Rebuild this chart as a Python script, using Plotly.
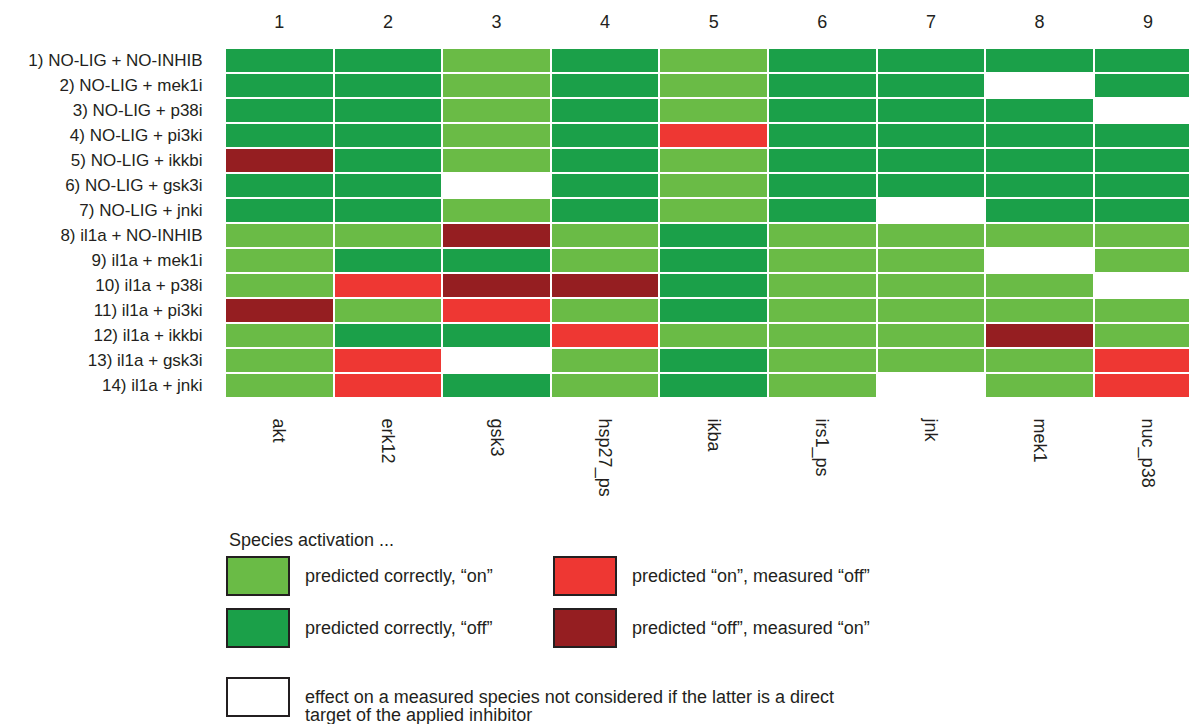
import plotly.graph_objects as go

# Measured species (columns) and their column numbers
species = ["akt", "erk12", "gsk3", "hsp27_ps", "ikba", "irs1_ps", "jnk", "mek1", "nuc_p38"]
column_numbers = ["1", "2", "3", "4", "5", "6", "7", "8", "9"]

# Experimental conditions (rows)
conditions = [
    "1) NO-LIG + NO-INHIB",
    "2) NO-LIG + mek1i",
    "3) NO-LIG + p38i",
    "4) NO-LIG + pi3ki",
    "5) NO-LIG + ikkbi",
    "6) NO-LIG + gsk3i",
    "7) NO-LIG + jnki",
    "8) il1a + NO-INHIB",
    "9) il1a + mek1i",
    "10) il1a + p38i",
    "11) il1a + pi3ki",
    "12) il1a + ikkbi",
    "13) il1a + gsk3i",
    "14) il1a + jnki",
]

# Outcome per cell:
# L = predicted correctly "on", D = predicted correctly "off",
# R = predicted "on" / measured "off", M = predicted "off" / measured "on",
# W = not considered (species is a direct target of the inhibitor)
outcomes = [
    "D D L D L D D D D",
    "D D L D L D D W D",
    "D D L D L D D D W",
    "D D L D R D D D D",
    "M D L D L D D D D",
    "D D W D L D D D D",
    "D D L D L D W D D",
    "L L M L D L L L L",
    "L D D L D L L W L",
    "L R M M D L L L W",
    "M L R L D L L L L",
    "L D D R L L L M L",
    "L R W L D L L L R",
    "L R D L D L W L R",
]

outcome_codes = ["L", "D", "R", "M", "W"]
outcome_colors = ["#6abb46", "#1ba049", "#ee3733", "#951e21", "#ffffff"]
legend_title = "Species activation ..."
legend_labels = [
    ["predicted correctly, \u201con\u201d"],
    ["predicted correctly, \u201coff\u201d"],
    ["predicted \u201con\u201d, measured \u201coff\u201d"],
    ["predicted \u201coff\u201d, measured \u201con\u201d"],
    ["effect on a measured species not considered if the latter is a direct",
     "target of the applied inhibitor"],
]

z = [[outcome_codes.index(c) for c in row.split()] for row in outcomes]

n = len(outcome_codes)
colorscale = []
for i, col in enumerate(outcome_colors):
    colorscale.append([i / n, col])
    colorscale.append([(i + 1) / n, col])

FONT = "Liberation Sans, Arial, sans-serif"
TEXT = "#231f20"

W, H = 1189, 724
ML, MR, MT, MB = 225, 0, 48, 326
PW, PH = W - ML - MR, H - MT - MB
COL_PX = 108.6

fig = go.Figure()
fig.add_trace(go.Heatmap(
    z=z,
    x=species,
    y=conditions,
    colorscale=colorscale,
    zmin=-0.5,
    zmax=n - 0.5,
    showscale=False,
    xgap=2,
    ygap=2,
    hoverinfo="skip",
))
# invisible trace carrying the top axis with the column numbers
fig.add_trace(go.Scatter(
    x=list(range(len(species))),
    y=[conditions[0]] * len(species),
    xaxis="x2",
    mode="markers",
    marker=dict(opacity=0),
    hoverinfo="skip",
    showlegend=False,
))

x_range = [-0.5, -0.5 + PW / COL_PX]

fig.update_layout(
    width=W,
    height=H,
    margin=dict(l=ML, r=MR, t=MT, b=MB),
    paper_bgcolor="white",
    plot_bgcolor="white",
    font=dict(family=FONT, size=17, color=TEXT),
    showlegend=False,
    xaxis=dict(
        range=x_range,
        tickangle=90,
        ticks="outside",
        ticklen=16,
        tickcolor="rgba(0,0,0,0)",
        showgrid=False,
        zeroline=False,
        showline=False,
        tickfont=dict(size=18, color=TEXT),
    ),
    xaxis2=dict(
        overlaying="x",
        side="top",
        range=x_range,
        tickmode="array",
        tickvals=list(range(len(species))),
        ticktext=column_numbers,
        ticks="outside",
        ticklen=12,
        tickcolor="rgba(0,0,0,0)",
        showgrid=False,
        zeroline=False,
        showline=False,
        tickfont=dict(size=18, color=TEXT),
    ),
    yaxis=dict(
        range=[len(conditions) - 0.5, -0.5],
        ticks="outside",
        ticklen=18,
        tickcolor="rgba(0,0,0,0)",
        showgrid=False,
        zeroline=False,
        showline=False,
        tickfont=dict(size=17, color=TEXT),
    ),
)


def px_to_paper(px, py):
    return (px - ML) / PW, (H - MB - py) / PH


# Legend
x0, y0 = px_to_paper(227, 540)
fig.add_annotation(x=x0, y=y0, xref="paper", yref="paper", text=legend_title,
                   showarrow=False, xanchor="left", yanchor="middle",
                   font=dict(size=18, color=TEXT))

# box position (left, top) and text start for each legend entry
legend_boxes = [(227, 557), (227, 609), (554, 557), (554, 609), (227, 678)]
legend_text_x = [303, 303, 630, 630, 303]
line_offsets = [[19], [19], [19], [19], [19, 37]]
for k in range(len(legend_boxes)):
    bx, by = legend_boxes[k]
    ax0, ay0 = px_to_paper(bx, by)
    ax1, ay1 = px_to_paper(bx + 62, by + 38)
    fig.add_shape(type="rect", xref="paper", yref="paper",
                  x0=ax0, x1=ax1, y0=ay1, y1=ay0,
                  fillcolor=outcome_colors[k],
                  line=dict(color="#231f20", width=2))
    for line, dy in zip(legend_labels[k], line_offsets[k]):
        tx, ty = px_to_paper(legend_text_x[k], by + dy)
        fig.add_annotation(x=tx, y=ty, xref="paper", yref="paper", text=line,
                           showarrow=False, xanchor="left", yanchor="middle", align="left",
                           font=dict(size=18, color=TEXT))

fig.write_html("out.html")
